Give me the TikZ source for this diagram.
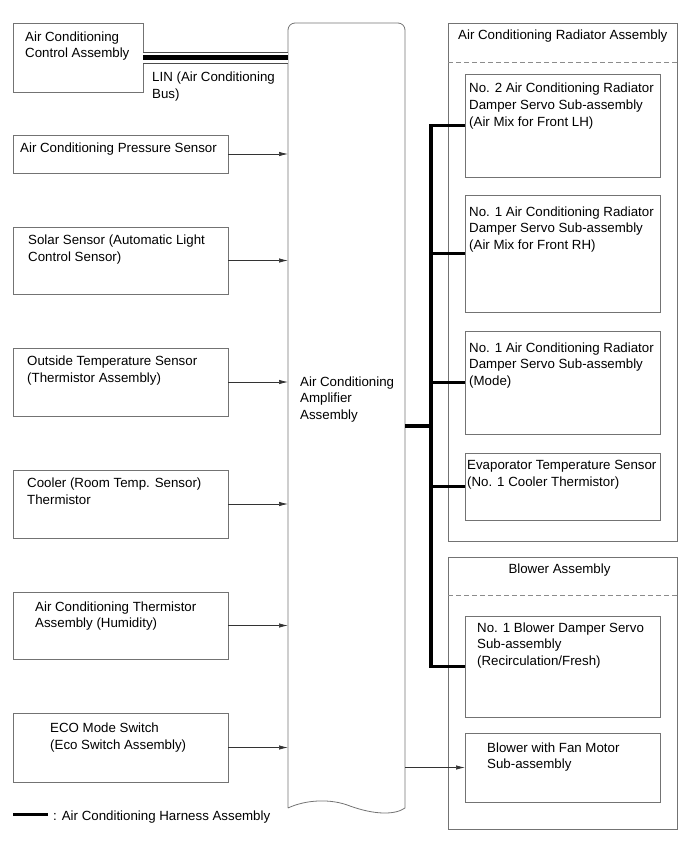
\documentclass[tikz,border=0pt]{standalone}
\usepackage{fontspec}
\setmainfont{Liberation Sans}
\usetikzlibrary{arrows.meta,calc}

\tikzset{
  box/.style={draw=black!55, line width=0.8pt, inner sep=0pt, outer sep=0pt, anchor=north west},
  lbl/.style={inner sep=0pt, anchor=north west, align=left, font=\fontsize{13.3}{16.6}\selectfont},
  sig/.style={draw=black!80, line width=0.7pt, -{Latex[length=9pt,width=4.4pt]}},
  harness/.style={line width=3.4pt, line join=miter},
  lin/.style={draw=black!70, line width=12pt, postaction={draw=white, line width=10pt}, postaction={draw=black, line width=4.5pt}},
  sect/.style={draw=black!45, line width=0.7pt, dash pattern=on 5pt off 3pt}
}

\begin{document}
\begin{tikzpicture}[x=1pt, y=-1pt]

     \useasboundingbox (0,0) rectangle (691,855);

     % amplifier
     \node[inner sep=0pt, outer sep=0pt, minimum width=117pt, minimum height=785pt, anchor=north west] (amp) at (288,23) {};
     \draw[black!55, line width=0.8pt, rounded corners=7pt] (amp.south west) -- (amp.north west) -- (amp.north east) [sharp corners] -- (amp.south east)
          .. controls (395,815) and (375,815) .. (350,806) .. controls (330,798) and (305,800) .. (amp.south west);
     \node[lbl] (amp-t) at (300,376.5) {Air Conditioning\\Amplifier\\Assembly};

     % inputs
     \node[box, minimum width=130pt, minimum height=69pt] (ctrl) at (13,23) {};
     \node[lbl] (ctrl-t) at (25,31.5) {Air Conditioning\\Control Assembly};

     \node[box, minimum width=215pt, minimum height=38pt] (press) at (13,135) {};
     \node[lbl] (press-t) at (20,142.5) {Air Conditioning Pressure Sensor};

     \node[box, minimum width=215pt, minimum height=67pt] (solar) at (13,227) {};
     \node[lbl] (solar-t) at (28,235) {Solar Sensor (Automatic Light\\Control Sensor)};

     \node[box, minimum width=215pt, minimum height=68pt] (outside) at (13,348) {};
     \node[lbl] (outside-t) at (27,356) {Outside Temperature Sensor\\(Thermistor Assembly)};

     \node[box, minimum width=215pt, minimum height=68pt] (cooler) at (13,470) {};
     \node[lbl] (cooler-t) at (27,478) {Cooler (Room Temp. Sensor)\\Thermistor};

     \node[box, minimum width=215pt, minimum height=67pt] (humid) at (13,592) {};
     \node[lbl] (humid-t) at (35,601.5) {Air Conditioning Thermistor\\Assembly (Humidity)};

     \node[box, minimum width=215pt, minimum height=69pt] (eco) at (13,713) {};
     \node[lbl] (eco-t) at (50,723) {ECO Mode Switch\\(Eco Switch Assembly)};

     % radiator assembly
     \node[box, minimum width=229pt, minimum height=518pt] (rad) at (448,23) {};
     \node[lbl] (rad-t) at (458,30) {Air Conditioning Radiator Assembly};
     \draw[sect] ([yshift=-39pt]rad.north west) -- ([yshift=-39pt]rad.north east);

     \node[box, minimum width=195pt, minimum height=103pt] (lh) at (465,74) {};
     \node[lbl] (lh-t) at (469,83) {No. 2 Air Conditioning Radiator\\Damper Servo Sub-assembly\\(Air Mix for Front LH)};

     \node[box, minimum width=195pt, minimum height=117pt] (rh) at (465,195) {};
     \node[lbl] (rh-t) at (469,206.5) {No. 1 Air Conditioning Radiator\\Damper Servo Sub-assembly\\(Air Mix for Front RH)};

     \node[box, minimum width=195pt, minimum height=103pt] (mode) at (465,331) {};
     \node[lbl] (mode-t) at (469,342.5) {No. 1 Air Conditioning Radiator\\Damper Servo Sub-assembly\\(Mode)};

     \node[box, minimum width=195pt, minimum height=67pt] (evap) at (465,453) {};
     \node[lbl] (evap-t) at (467,460.5) {Evaporator Temperature Sensor\\(No. 1 Cooler Thermistor)};

     % blower assembly
     \node[box, minimum width=229pt, minimum height=272pt] (blow) at (448,557) {};
     \node[lbl, anchor=north] (blow-t) at (559.5,564) {Blower Assembly};
     \draw[sect] ([yshift=-38pt]blow.north west) -- ([yshift=-38pt]blow.north east);

     \node[box, minimum width=195pt, minimum height=101pt] (bd) at (465,616) {};
     \node[lbl] (bd-t) at (477,622.5) {No. 1 Blower Damper Servo\\Sub-assembly\\(Recirculation/Fresh)};

     \node[box, minimum width=195pt, minimum height=69pt] (fan) at (465,733) {};
     \node[lbl] (fan-t) at (487,742.5) {Blower with Fan Motor\\Sub-assembly};

     % LIN bus
     \draw[lin] ([xshift=0.4pt]ctrl.east) -- (ctrl.east -| amp.west);
     \node[lbl] (lin-t) at (152,72) {LIN (Air Conditioning\\Bus)};

     % signals
     \foreach \s in {press,solar,outside,cooler,humid,eco}
          \draw[sig] (\s.east) -- (\s.east -| amp.west);
     \draw[sig] (fan.west -| amp.east) -- (fan.west);

     % harness
     \coordinate (bus) at (431,426);
     \draw[harness] (bus -| amp.east) -- (bus);
     \draw[harness] (lh.west) -- (lh.west -| bus) -- (bd.west -| bus) -- (bd.west);
     \foreach \s in {rh,mode,evap}
          \draw[harness] (\s.west -| bus) -- (\s.west);

     % legend
     \coordinate (leg) at (13,814.3);
     \draw[harness] (leg) -- ++(35,0);
     \node[lbl] (leg-t) at (53,810.5) {: Air Conditioning Harness Assembly};

\end{tikzpicture}
\end{document}
